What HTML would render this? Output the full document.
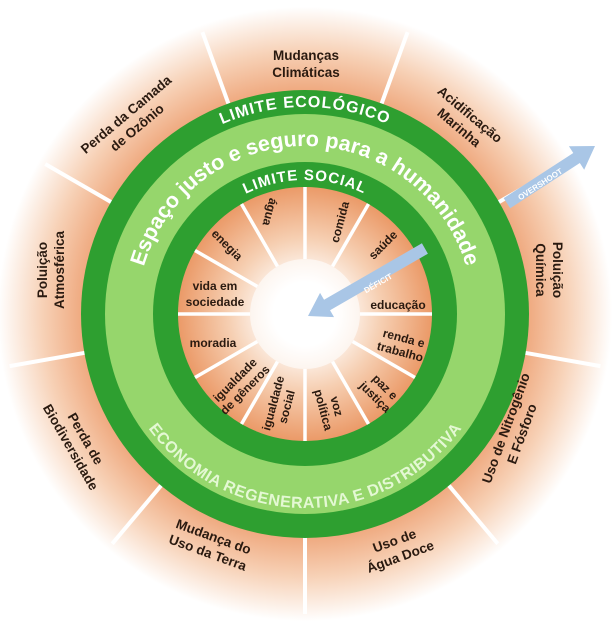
<!DOCTYPE html>
<html><head><meta charset="utf-8"><style>
html,body{margin:0;padding:0;background:#fff;}
svg{display:block;font-family:"Liberation Sans",sans-serif;}
.o{font-size:13.5px;fill:#2a1a10;font-weight:bold;}
.i{font-size:12px;fill:#2a1a10;font-weight:bold;}
</style></head><body>
<svg width="615" height="628" viewBox="0 0 615 628" xmlns="http://www.w3.org/2000/svg">
<defs>
<radialGradient id="og" cx="305" cy="314" r="320" gradientUnits="userSpaceOnUse">
<stop offset="0.68" stop-color="#eea478"/>
<stop offset="0.82" stop-color="#f7d1b6"/>
<stop offset="0.96" stop-color="#ffffff"/>
</radialGradient>
<radialGradient id="ig" cx="305" cy="314" r="127" gradientUnits="userSpaceOnUse">
<stop offset="0.25" stop-color="#ffffff"/>
<stop offset="0.6" stop-color="#f6cfb2"/>
<stop offset="1" stop-color="#eb9a68"/>
</radialGradient>
<path id="pEco" d="M 305 314 m -207 0 a 207 207 0 0 1 414 0"/>
<path id="pEsp" d="M 305 314 m -168 0 a 168 168 0 0 1 336 0"/>
<path id="pSoc" d="M 305 314 m -134 0 a 134 134 0 0 1 268 0"/>
<path id="pEcon" d="M 305 314 m -184 0 a 184 184 0 0 0 368 0"/>
</defs>
<rect width="615" height="628" fill="#fff"/>
<circle cx="305" cy="314" r="320" fill="url(#og)"/>
<g stroke="#fff" stroke-width="4">
<g transform="translate(305 314)">
<line x1="0" y1="-220" x2="0" y2="-300" transform="rotate(-20)"/>
<line x1="0" y1="-220" x2="0" y2="-300" transform="rotate(20)"/>
<line x1="0" y1="-220" x2="0" y2="-300" transform="rotate(60)"/>
<line x1="0" y1="-220" x2="0" y2="-300" transform="rotate(100)"/>
<line x1="0" y1="-220" x2="0" y2="-300" transform="rotate(140)"/>
<line x1="0" y1="-220" x2="0" y2="-300" transform="rotate(180)"/>
<line x1="0" y1="-220" x2="0" y2="-300" transform="rotate(220)"/>
<line x1="0" y1="-220" x2="0" y2="-300" transform="rotate(260)"/>
<line x1="0" y1="-220" x2="0" y2="-300" transform="rotate(300)"/>
</g></g>
<circle cx="305" cy="314" r="224" fill="#2e9f30"/>
<circle cx="305" cy="314" r="200" fill="#96d66c"/>
<circle cx="305" cy="314" r="152" fill="#2e9f30"/>
<circle cx="305" cy="314" r="127" fill="url(#ig)"/>
<g stroke="#fff" stroke-width="3.5" transform="translate(305 314)">
<line x1="0" y1="-55" x2="0" y2="-127"/>
<line x1="0" y1="-55" x2="0" y2="-127" transform="rotate(30)"/>
<line x1="0" y1="-55" x2="0" y2="-127" transform="rotate(60)"/>
<line x1="0" y1="-55" x2="0" y2="-127" transform="rotate(90)"/>
<line x1="0" y1="-55" x2="0" y2="-127" transform="rotate(120)"/>
<line x1="0" y1="-55" x2="0" y2="-127" transform="rotate(150)"/>
<line x1="0" y1="-55" x2="0" y2="-127" transform="rotate(180)"/>
<line x1="0" y1="-55" x2="0" y2="-127" transform="rotate(210)"/>
<line x1="0" y1="-55" x2="0" y2="-127" transform="rotate(240)"/>
<line x1="0" y1="-55" x2="0" y2="-127" transform="rotate(270)"/>
<line x1="0" y1="-55" x2="0" y2="-127" transform="rotate(300)"/>
<line x1="0" y1="-55" x2="0" y2="-127" transform="rotate(330)"/>
</g>
<circle cx="305" cy="314" r="55" fill="#fff" opacity="0.6"/>
<text font-size="16" font-weight="bold" fill="#fff" letter-spacing="1"><textPath href="#pEco" startOffset="50%" text-anchor="middle">LIMITE ECOLÓGICO</textPath></text>
<text font-size="21.5" font-weight="bold" fill="#fff"><textPath href="#pEsp" startOffset="50%" text-anchor="middle">Espaço justo e seguro para a humanidade</textPath></text>
<text font-size="15" font-weight="bold" fill="#fff" letter-spacing="1"><textPath href="#pSoc" startOffset="50%" text-anchor="middle">LIMITE SOCIAL</textPath></text>
<text font-size="16" font-weight="bold" fill="#e4f8d4" dominant-baseline="hanging"><textPath href="#pEcon" startOffset="50%" text-anchor="middle">ECONOMIA REGENERATIVA E DISTRIBUTIVA</textPath></text>
<g fill="#a9c6e6">
<polygon transform="translate(308 316) rotate(-30)" points="0,0 22,-14 22,-6 135,-6 135,6 22,6 22,14"/>
<polygon transform="translate(595 146) rotate(147)" points="0,0 22,-14 22,-6 105,-6 105,6 22,6 22,14"/>
</g>
<text x="0" y="3" font-size="8" fill="#fff" font-weight="bold" text-anchor="middle" transform="translate(378 283) rotate(-30)">DÉFICIT</text>
<text x="0" y="3" font-size="8" fill="#fff" font-weight="bold" text-anchor="middle" transform="translate(540 184) rotate(-33)">OVERSHOOT</text>
<g class="o" text-anchor="middle">
<text transform="translate(306 60)"><tspan x="0" y="0">Mudanças</tspan><tspan x="0" y="17">Climáticas</tspan></text>
<text transform="translate(467 118) rotate(40)"><tspan x="0" y="0">Acidificação</tspan><tspan x="0" y="17">Marinha</tspan></text>
<text transform="translate(549 270) rotate(90)"><tspan x="0" y="-4">Poluição</tspan><tspan x="0" y="13">Química</tspan></text>
<text transform="translate(514 431) rotate(-70)"><tspan x="0" y="-4">Uso de Nitrogênio</tspan><tspan x="0" y="13">E Fósforo</tspan></text>
<text transform="translate(396 545) rotate(-20)"><tspan x="0" y="0">Uso de</tspan><tspan x="0" y="17">Água Doce</tspan></text>
<text transform="translate(212 541) rotate(20)"><tspan x="0" y="0">Mudança do</tspan><tspan x="0" y="17">Uso da Terra</tspan></text>
<text transform="translate(78 443) rotate(60)"><tspan x="0" y="-4">Perda de</tspan><tspan x="0" y="13">Biodiversidade</tspan></text>
<text transform="translate(51 270) rotate(-90)"><tspan x="0" y="-4">Poluição</tspan><tspan x="0" y="13">Atmosférica</tspan></text>
<text transform="translate(129 118) rotate(-40)"><tspan x="0" y="0">Perda da Camada</tspan><tspan x="0" y="17">de Ozônio</tspan></text>
</g>
<g class="i" text-anchor="middle">
<text transform="translate(270 212) rotate(105)" y="4">água</text>
<text transform="translate(340 222) rotate(-75)" y="4">comida</text>
<text transform="translate(383 245) rotate(-45)" y="4">saúde</text>
<text transform="translate(227 245) rotate(45)" y="4">enegia</text>
<text transform="translate(215 293)"><tspan x="0" y="-3">vida em</tspan><tspan x="0" y="13">sociedade</tspan></text>
<text transform="translate(398 305)" y="4">educação</text>
<text transform="translate(213 343)" y="4">moradia</text>
<text transform="translate(402 345) rotate(15)"><tspan x="0" y="-3">renda e</tspan><tspan x="0" y="11">trabalho</tspan></text>
<text transform="translate(380 392) rotate(45)"><tspan x="0" y="-3">paz e</tspan><tspan x="0" y="11">justiça</tspan></text>
<text transform="translate(330 408) rotate(75)"><tspan x="0" y="-3">voz</tspan><tspan x="0" y="11">política</tspan></text>
<text transform="translate(280 405) rotate(-75)"><tspan x="0" y="-3">igualdade</tspan><tspan x="0" y="11">social</tspan></text>
<text transform="translate(240 385) rotate(-45)"><tspan x="0" y="-3">igualdade</tspan><tspan x="0" y="11">de gêneros</tspan></text>
</g>
</svg>
</body></html>
